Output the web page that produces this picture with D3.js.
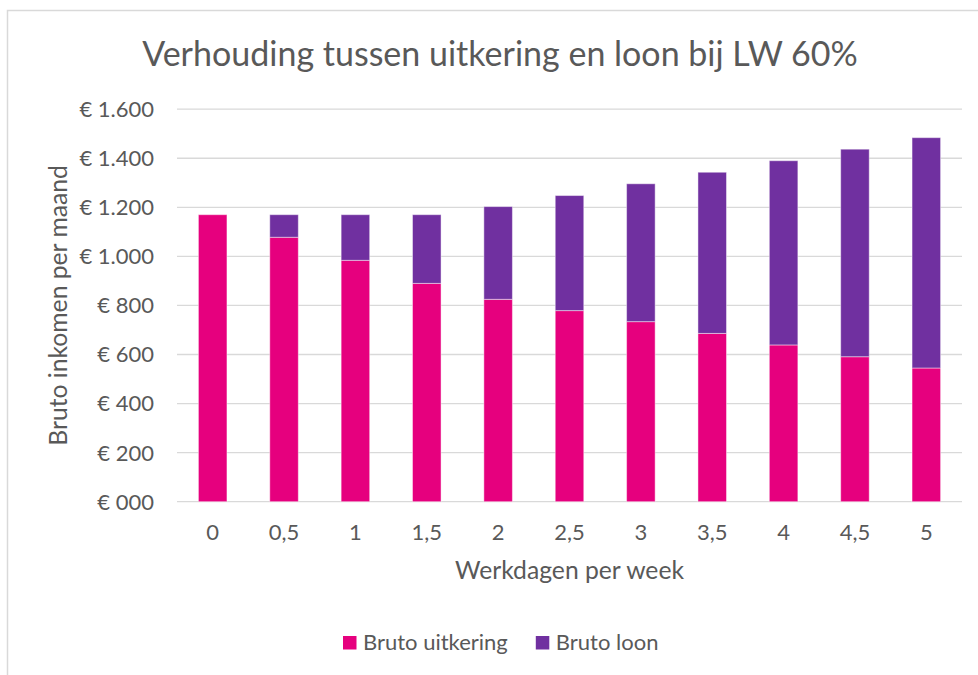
<!DOCTYPE html>
<html>
<head>
<meta charset="utf-8">
<script src="https://cdn.jsdelivr.net/npm/d3@7"></script>
<style>
  body { margin: 0; background: #fff; }
  text { font-family: Lato, "Open Sans", sans-serif; fill: #595959; }
</style>
</head>
<body>
<div class="myBox"></div>
<script>
var werkdagen = ["0", "0,5", "1", "1,5", "2", "2,5", "3", "3,5", "4", "4,5", "5"];
var brutoUitkering = [1170, 1078, 984, 890, 825, 779, 734, 686, 639, 591, 545];
var brutoLoon = [0, 92, 186, 280, 378, 469, 562, 657, 751, 846, 939];
var yTicks = [0, 200, 400, 600, 800, 1000, 1200, 1400, 1600];
var seriesNames = ["Bruto uitkering", "Bruto loon"];
var seriesColors = ["#E6007E", "#7030A0"];

var width = 978;
var height = 675;

var svg = d3.select(".myBox")
  .append("svg")
  .attr("width", width)
  .attr("height", height);

// chart frame
svg.append("rect")
  .attr("x", 7.5).attr("y", 10.5)
  .attr("width", 1000).attr("height", 700)
  .attr("fill", "none")
  .attr("stroke", "#d9d9d9")
  .attr("stroke-width", 1.5);

var plotLeft = 177, plotRight = 962, plotTop = 109.2, plotBottom = 501.7;

var x = d3.scaleBand()
  .domain(werkdagen)
  .range([plotLeft, plotRight])
  .paddingInner(0.6)
  .paddingOuter(0.3);

var y = d3.scaleLinear()
  .domain([0, 1600])
  .range([plotBottom, plotTop]);

var rows = werkdagen.map(function(d, i) {
  return { dag: d, uitkering: brutoUitkering[i], loon: brutoLoon[i] };
});

var layers = d3.stack().keys(["uitkering", "loon"])(rows);

// gridlines
svg.append("g")
  .selectAll("line")
  .data(yTicks)
  .enter().append("line")
    .attr("x1", plotLeft).attr("x2", plotRight)
    .attr("y1", function(d) { return y(d); })
    .attr("y2", function(d) { return y(d); })
    .attr("stroke", "#d9d9d9")
    .attr("stroke-width", 1.3);

// y tick labels
var euro = function(d) {
  if (d === 0) return "€ 000";
  return "€ " + d3.format(",")(d).replace(/,/g, ".");
};
svg.append("g")
  .selectAll("text")
  .data(yTicks)
  .enter().append("text")
    .attr("x", 154)
    .attr("y", function(d) { return y(d); })
    .attr("dy", "0.36em")
    .attr("text-anchor", "end")
    .style("font-size", "22px")
    .text(euro);

// bars
svg.append("g")
  .selectAll("g")
  .data(layers)
  .enter().append("g")
    .attr("fill", function(d, i) { return seriesColors[i]; })
  .selectAll("rect")
  .data(function(d) { return d; })
  .enter().append("rect")
    .attr("x", function(d) { return x(d.data.dag); })
    .attr("width", x.bandwidth())
    .attr("y", function(d) { return y(d[1]); })
    .attr("height", function(d) { return y(d[0]) - y(d[1]); })
    .attr("stroke", "#fff")
    .attr("stroke-opacity", 0.45)
    .attr("stroke-width", 1);

// x tick labels
svg.append("g")
  .selectAll("text")
  .data(werkdagen)
  .enter().append("text")
    .attr("x", function(d) { return x(d) + x.bandwidth() / 2; })
    .attr("y", 540)
    .attr("text-anchor", "middle")
    .style("font-size", "22px")
    .text(function(d) { return d; });

// titles
svg.append("text")
  .attr("x", 500)
  .attr("y", 66)
  .attr("text-anchor", "middle")
  .style("font-size", "34px")
  .text("Verhouding tussen uitkering en loon bij LW 60%");

svg.append("text")
  .attr("x", (plotLeft + plotRight) / 2)
  .attr("y", 579)
  .attr("text-anchor", "middle")
  .style("font-size", "24.7px")
  .text("Werkdagen per week");

svg.append("text")
  .attr("transform", "translate(67," + (plotTop + plotBottom) / 2 + ") rotate(-90)")
  .attr("text-anchor", "middle")
  .style("font-size", "24.7px")
  .text("Bruto inkomen per maand");

// legend
var legend = svg.append("g");
var lx = 343;
seriesNames.forEach(function(name, i) {
  legend.append("rect")
    .attr("x", lx).attr("y", 636)
    .attr("width", 13.5).attr("height", 13.5)
    .attr("fill", seriesColors[i]);
  var t = legend.append("text")
    .attr("x", lx + 20)
    .attr("y", 650)
    .style("font-size", "22px")
    .text(name);
  lx = lx + 20 + t.node().getComputedTextLength() + 28;
});
</script>
</body>
</html>
